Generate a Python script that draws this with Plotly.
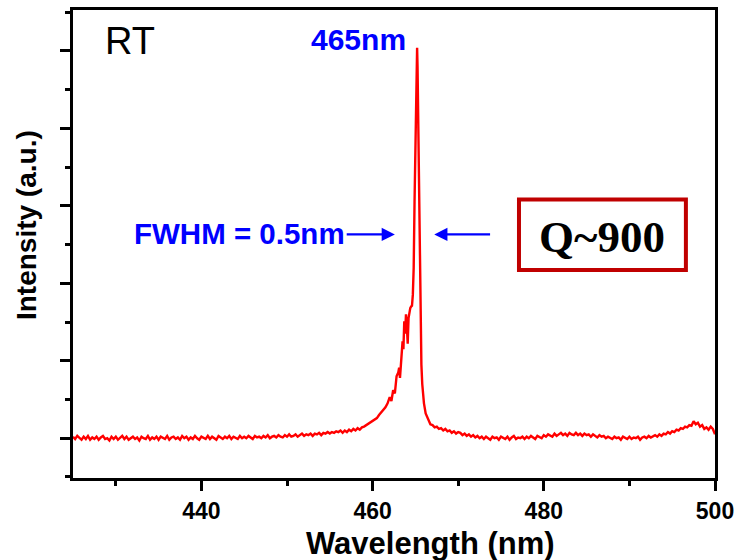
import plotly.graph_objects as go

# ---------------- data ----------------
# left baseline: 425.0 .. 456.0 nm every 0.25 nm
left_start, left_step = 425.0, 0.25
left_intensity = [
    0.02, -0.01, 0.03, 0.0, -0.02, 0.02, -0.01, 0.03, -0.02, 0.01,
    -0.01, 0.02, -0.02, 0.01, 0.03, -0.01, 0.0, -0.03, 0.02, -0.01,
    0.02, -0.02, 0.01, 0.03, -0.01, 0.02, -0.02, 0.0, 0.02, -0.01,
    0.01, -0.03, 0.02, 0.0, -0.01, 0.03, -0.02, 0.01, -0.01, 0.02,
    -0.02, 0.02, 0.0, -0.01, 0.03, -0.02, 0.01, 0.02, -0.01, 0.01,
    -0.02, 0.03, 0.0, 0.02, -0.02, 0.01, -0.01, 0.03, 0.0, -0.02,
    0.02, 0.0, -0.01, 0.03, -0.01, 0.02, 0.0, -0.02, 0.03, 0.01,
    -0.01, 0.02, 0.0, 0.03, -0.01, 0.02, 0.01, -0.01, 0.03, 0.0,
    0.02, 0.0, 0.03, 0.01, -0.01, 0.03, 0.01, 0.02, 0.0, 0.03,
    0.01, 0.04, 0.0, 0.02, 0.03, 0.01, 0.04, 0.02, 0.01, 0.04,
    0.02, 0.05, 0.02, 0.03, 0.05, 0.02, 0.04, 0.06, 0.03, 0.05,
    0.04, 0.06, 0.03, 0.06, 0.05, 0.07, 0.04, 0.07, 0.06, 0.08,
    0.06, 0.08, 0.07, 0.09, 0.08,
]

# peak region (explicit samples)
peak_wavelength = [
    456.25, 456.5, 456.75, 457.0, 457.25, 457.5, 457.75, 458.0, 458.25, 458.5,
    458.75, 459.0, 459.25, 459.5, 459.75, 460.0, 460.25, 460.5, 460.75, 461.0,
    461.25, 461.5, 461.75, 462.0, 462.2, 462.4, 462.6, 462.8, 463.0, 463.1,
    463.2, 463.3, 463.5, 463.6, 463.7, 463.8, 463.9, 464.0, 464.1, 464.2,
    464.3, 464.4, 464.5, 464.6, 464.7, 464.8, 464.9, 465.0, 465.1, 465.2,
    465.25, 465.3, 465.4, 465.5, 465.6, 465.7, 465.8, 466.0, 466.2, 466.5,
    466.75, 467.0, 467.25, 467.5, 467.75, 468.0, 468.25, 468.5, 468.75, 469.0,
    469.25, 469.5, 469.75, 470.0,
]
peak_intensity = [
    0.10, 0.07, 0.10, 0.08, 0.11, 0.09, 0.12, 0.10, 0.13, 0.11,
    0.14, 0.15, 0.17, 0.18, 0.21, 0.22, 0.25, 0.26, 0.30, 0.33,
    0.36, 0.40, 0.45, 0.53, 0.48, 0.62, 0.58, 0.80, 0.85, 0.91,
    0.78, 0.95, 1.25, 1.15, 1.51, 1.35, 1.60, 1.45, 1.22, 1.55,
    1.64, 1.68, 1.70, 1.71, 1.85, 2.20, 3.05, 3.90, 4.50, 5.04,
    4.80, 4.40, 3.30, 2.20, 1.35, 0.95, 0.70, 0.45, 0.32, 0.24,
    0.18, 0.17, 0.14, 0.15, 0.12, 0.13, 0.10, 0.12, 0.09, 0.10,
    0.07, 0.09, 0.06, 0.08,
]

# right baseline: 470.25 .. 500.0 nm every 0.25 nm
right_start, right_step = 470.25, 0.25
right_intensity = [
    0.07, 0.04, 0.06, 0.03, 0.05, 0.02, 0.04, 0.01, 0.03, 0.0,
    0.02, -0.01, 0.02, 0.0, -0.02, 0.02, 0.0, 0.01, -0.02, 0.02,
    0.0, -0.01, 0.02, -0.02, 0.01, 0.03, -0.01, 0.01, 0.0, 0.02,
    -0.01, 0.02, 0.0, 0.03, 0.01, -0.01, 0.03, 0.02, 0.0, 0.04,
    0.02, 0.05, 0.03, 0.02, 0.06, 0.03, 0.05, 0.07, 0.04, 0.06,
    0.03, 0.07, 0.05, 0.04, 0.07, 0.04, 0.06, 0.03, 0.06, 0.04,
    0.05, 0.02, 0.05, 0.03, 0.01, 0.04, 0.02, 0.03, 0.0, 0.02,
    0.01, -0.01, 0.02, 0.0, 0.01, -0.02, 0.02, 0.0, -0.01, 0.02,
    -0.01, 0.01, 0.0, 0.02, -0.02, 0.01, 0.02, 0.0, 0.03, 0.01,
    0.02, 0.04, 0.02, 0.05, 0.03, 0.06, 0.05, 0.08, 0.06, 0.09,
    0.08, 0.11, 0.10, 0.13, 0.12, 0.15, 0.14, 0.17, 0.16, 0.22,
    0.18, 0.20, 0.15, 0.17, 0.12, 0.14, 0.11, 0.15, 0.12, 0.05,
]

x_tick_values = [440, 460, 480, 500]
x_tick_labels = ["440", "460", "480", "500"]

wavelength = ([left_start + left_step * i for i in range(len(left_intensity))]
              + peak_wavelength
              + [right_start + right_step * i for i in range(len(right_intensity))])
intensity = left_intensity + peak_intensity + right_intensity

SANS = "Liberation Sans, Arial, sans-serif"
SERIF = "Liberation Serif, Times New Roman, serif"
BLUE = "#0000ff"

fig = go.Figure()
fig.add_trace(go.Scatter(
    x=wavelength, y=intensity, mode="lines",
    line=dict(color="#ff0000", width=2.4),
    showlegend=False, hoverinfo="skip",
))

fig.update_layout(
    width=741, height=560,
    margin=dict(l=73, r=21, t=7, b=82),
    paper_bgcolor="white", plot_bgcolor="white",
    showlegend=False,
)

fig.update_xaxes(
    range=[425, 500],
    tickvals=x_tick_values, ticktext=x_tick_labels,
    ticks="outside", ticklen=10, tickwidth=3, tickcolor="black",
    minor=dict(dtick=10, tick0=430, ticks="outside", ticklen=5, tickwidth=3, tickcolor="black"),
    showline=True, linewidth=3, linecolor="black", mirror=True,
    showgrid=False, zeroline=False,
    tickfont=dict(family=SANS, size=23, color="black", weight="bold"),
)
fig.update_yaxes(
    range=[-0.513, 5.526],
    tickvals=[0, 1, 2, 3, 4, 5],
    showticklabels=False,
    ticks="outside", ticklen=10, tickwidth=3, tickcolor="black",
    minor=dict(dtick=0.5, tick0=0, ticks="outside", ticklen=5, tickwidth=3, tickcolor="black"),
    showline=True, linewidth=3, linecolor="black", mirror=True,
    showgrid=False, zeroline=False,
)

# axis titles as annotations (positioned like the reference)
fig.add_annotation(
    xref="paper", yref="paper", x=0.557, y=-0.141,
    text="<b>Wavelength (nm)</b>", showarrow=False,
    font=dict(family=SANS, size=31, color="black"),
    xanchor="center", yanchor="middle",
)
fig.add_annotation(
    xref="paper", yref="paper", x=-0.072, y=0.54,
    text="<b>Intensity (a.u.)</b>", showarrow=False, textangle=-90,
    font=dict(family=SANS, size=28, color="black"),
    xanchor="center", yanchor="middle",
)

# RT label
fig.add_annotation(
    x=428.5, y=5.13, text="RT", showarrow=False,
    font=dict(family=SANS, size=38, color="black"),
    xanchor="left", yanchor="middle",
)
# 465nm label
fig.add_annotation(
    x=458.3, y=5.14, text="<b>465nm</b>", showarrow=False,
    font=dict(family=SANS, size=30, color=BLUE),
    xanchor="center", yanchor="middle",
)
# FWHM label
fig.add_annotation(
    x=457.0, y=2.64, text="<b>FWHM = 0.5nm</b>", showarrow=False,
    font=dict(family=SANS, size=29.5, color=BLUE),
    xanchor="right", yanchor="middle",
)
# arrows
fig.add_annotation(
    x=462.6, y=2.63, ax=456.8, ay=2.63, axref="x", ayref="y",
    xref="x", yref="y", text="", showarrow=True,
    arrowhead=2, arrowsize=1.2, arrowwidth=2.2, arrowcolor=BLUE,
)
fig.add_annotation(
    x=467.2, y=2.63, ax=473.9, ay=2.63, axref="x", ayref="y",
    xref="x", yref="y", text="", showarrow=True,
    arrowhead=2, arrowsize=1.2, arrowwidth=2.2, arrowcolor=BLUE,
)

# Q~900 box
fig.add_shape(
    type="rect", xref="x", yref="y",
    x0=477.1, x1=496.6, y0=2.17, y1=3.08,
    line=dict(color="#c00000", width=4), fillcolor="rgba(0,0,0,0)",
)
fig.add_annotation(
    x=486.85, y=2.60, text="<b>Q~900</b>", showarrow=False,
    font=dict(family=SERIF, size=45, color="black"),
    xanchor="center", yanchor="middle",
)

fig.write_html("out.html")
